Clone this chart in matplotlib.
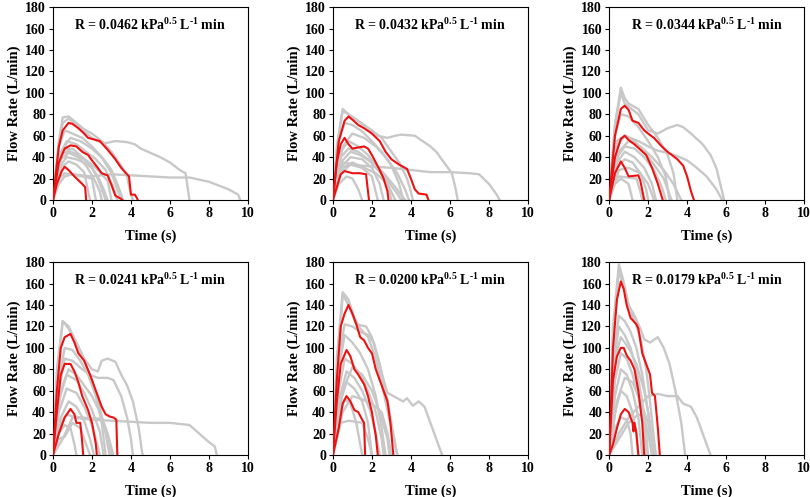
import matplotlib
matplotlib.use('Agg')
import matplotlib.pyplot as plt

plt.rcParams['font.family'] = 'Liberation Serif'
plt.rcParams['font.weight'] = 'bold'
plt.rcParams['mathtext.default'] = 'regular'

# resistance value for each panel
R_VALUES = ['0.0462', '0.0432', '0.0344', '0.0241', '0.0200', '0.0179']

X_TICKS = [0, 2, 4, 6, 8, 10]
Y_TICKS = [0, 20, 40, 60, 80, 100, 120, 140, 160, 180]

# each curve is a list of (time s, flow L/min) points
P1_RED = [
    [(0, 0), (0.3, 50), (0.5, 65), (0.8, 72), (1.0, 71), (1.3, 67), (1.6, 62), (1.8, 58), (2.0, 57), (2.4, 55),
     (2.8, 47), (3.2, 38), (3.5, 30), (3.8, 24), (3.9, 22), (4.0, 5), (4.2, 5), (4.3, 2), (4.35, 0)],
    [(0, 0), (0.3, 35), (0.6, 48), (0.9, 51), (1.2, 50), (1.5, 45), (1.8, 42), (2.0, 37), (2.3, 30), (2.5, 25),
     (2.8, 23), (3.0, 14), (3.2, 4), (3.5, 1), (3.55, 0)],
    [(0, 0), (0.2, 15), (0.45, 27), (0.6, 31), (0.8, 28), (1.1, 22), (1.5, 15), (1.65, 12), (1.7, 0)],
]
P1_GRAY = [
    [(0, 0), (0.3, 50), (0.5, 72), (0.8, 76), (1.2, 70), (1.6, 64), (2.0, 58), (2.3, 55), (2.7, 53), (3.2, 55),
     (3.8, 54), (4.2, 52), (4.5, 48), (5.0, 44), (5.5, 40), (6.0, 35), (6.5, 28), (6.8, 25), (7.0, 0)],
    [(0, 0), (0.3, 15), (0.6, 22), (1.0, 24), (2.0, 22), (3.0, 24), (4.0, 23), (5.0, 22), (6.0, 21), (7.0, 21),
     (8.0, 17), (9.0, 10), (9.5, 5), (9.6, 0)],
    [(0, 0), (0.3, 55), (0.5, 77), (0.8, 78), (1.2, 72), (1.6, 66), (2.0, 62), (2.5, 55), (3.0, 45), (3.5, 32),
     (3.8, 22), (4.0, 5), (4.1, 0)],
    [(0, 0), (0.3, 50), (0.6, 65), (1.0, 62), (1.5, 58), (2.0, 50), (2.5, 40), (3.0, 25), (3.3, 10), (3.5, 0)],
    [(0, 0), (0.3, 40), (0.7, 55), (1.2, 52), (1.7, 45), (2.2, 38), (2.7, 28), (3.1, 12), (3.3, 0)],
    [(0, 0), (0.4, 42), (0.8, 46), (1.3, 42), (1.8, 35), (2.3, 22), (2.6, 10), (2.8, 0)],
    [(0, 0), (0.4, 38), (0.8, 44), (1.3, 40), (1.7, 32), (2.1, 20), (2.4, 8), (2.5, 0)],
    [(0, 0), (0.4, 30), (0.8, 36), (1.2, 33), (1.6, 26), (1.9, 0)],
    [(0, 0), (0.3, 20), (0.6, 25), (1.5, 22), (2.0, 20), (2.2, 0)],
    [(0, 0), (0.3, 30), (0.7, 40), (1.2, 38), (1.6, 35), (2.0, 30), (2.3, 20), (2.6, 5), (2.7, 0)],
    [(0, 0), (0.4, 45), (0.9, 58), (1.4, 55), (2.0, 48), (2.6, 38), (3.0, 28), (3.3, 15), (3.6, 0)],
    [(0, 0), (0.5, 47), (1.0, 48), (1.5, 40), (2.2, 30), (2.8, 18), (3.0, 0)],
]

P2_RED = [
    [(0, 0), (0.3, 55), (0.6, 74), (0.8, 78), (1.0, 75), (1.3, 70), (1.6, 67), (2.0, 62), (2.4, 55), (2.7, 45),
     (3.0, 38), (3.4, 33), (3.8, 29), (4.0, 20), (4.2, 10), (4.4, 6), (4.8, 5), (4.9, 0)],
    [(0, 0), (0.2, 35), (0.4, 52), (0.6, 58), (0.8, 52), (1.0, 48), (1.3, 49), (1.6, 50), (1.8, 48), (2.0, 42),
     (2.2, 35), (2.4, 28), (2.6, 20), (2.8, 8), (2.85, 0)],
    [(0, 0), (0.2, 12), (0.4, 24), (0.6, 27), (1.0, 25), (1.4, 25), (1.7, 24), (1.85, 0)],
]
P2_GRAY = [
    [(0, 0), (0.2, 50), (0.5, 85), (0.8, 80), (1.2, 75), (1.6, 70), (2.0, 64), (2.3, 60), (2.8, 58), (3.2, 60),
     (3.5, 61), (4.2, 60), (4.6, 55), (5.0, 50), (5.3, 45), (5.9, 30), (6.1, 25), (6.3, 10), (6.4, 0)],
    [(0, 0), (0.5, 35), (1.5, 32), (3.0, 30), (4.0, 28), (5.0, 26), (6.0, 26), (7.0, 25), (7.5, 24), (8.0, 15),
     (8.4, 5), (8.55, 0)],
    [(0, 0), (0.3, 60), (0.5, 83), (0.8, 80), (1.2, 75), (1.6, 70), (2.0, 65), (2.5, 58), (3.0, 45), (3.4, 35),
     (3.8, 20), (4.0, 8), (4.1, 0)],
    [(0, 0), (0.3, 55), (0.6, 72), (1.0, 70), (1.5, 64), (2.0, 55), (2.5, 45), (3.0, 32), (3.4, 15), (3.6, 0)],
    [(0, 0), (0.4, 45), (0.8, 55), (1.3, 50), (1.8, 42), (2.3, 30), (2.8, 15), (3.0, 0)],
    [(0, 0), (0.4, 35), (0.9, 45), (1.4, 42), (2.0, 35), (2.6, 25), (3.2, 12), (3.7, 0)],
    [(0, 0), (0.4, 30), (0.9, 40), (1.5, 38), (2.0, 30), (2.4, 15), (2.6, 0)],
    [(0, 0), (0.4, 25), (0.9, 33), (1.5, 30), (2.0, 22), (2.3, 0)],
    [(0, 0), (0.3, 15), (0.7, 22), (1.0, 20), (1.3, 10), (1.5, 0)],
    [(0, 0), (0.4, 40), (0.8, 48), (1.3, 45), (1.8, 38), (2.3, 28), (2.8, 18), (3.3, 6), (3.5, 0)],
    [(0, 0), (0.5, 50), (1.0, 62), (1.6, 58), (2.2, 50), (2.8, 38), (3.3, 25), (3.7, 10), (3.9, 0)],
    [(0, 0), (0.5, 30), (1.0, 35), (1.6, 30), (2.2, 25), (2.8, 15), (3.2, 0)],
]

P3_RED = [
    [(0, 0), (0.3, 60), (0.6, 85), (0.8, 88), (1.0, 84), (1.2, 74), (1.5, 72), (1.8, 65), (2.0, 62), (2.3, 58),
     (2.7, 50), (3.0, 45), (3.5, 38), (3.8, 32), (4.0, 22), (4.2, 8), (4.35, 0)],
    [(0, 0), (0.3, 40), (0.6, 57), (0.8, 60), (1.0, 56), (1.3, 52), (1.6, 47), (1.9, 42), (2.2, 30), (2.5, 15),
     (2.7, 3), (2.75, 0)],
    [(0, 0), (0.3, 25), (0.6, 36), (0.8, 30), (1.0, 22), (1.5, 23), (1.6, 18), (1.8, 0)],
]
P3_GRAY = [
    [(0, 0), (0.3, 70), (0.6, 100), (0.8, 90), (1.5, 80), (2.0, 65), (2.5, 62), (3.0, 67), (3.5, 70), (3.8, 68),
     (4.2, 62), (4.8, 52), (5.2, 42), (5.5, 30), (5.7, 15), (5.9, 0)],
    [(0, 0), (0.4, 55), (0.8, 60), (1.5, 55), (2.0, 50), (2.5, 46), (3.0, 44), (3.5, 41), (4.0, 37), (4.5, 30),
     (5.0, 22), (5.5, 10), (5.8, 0)],
    [(0, 0), (0.3, 70), (0.6, 105), (0.8, 95), (1.0, 90), (1.5, 85), (2.0, 70), (2.5, 58), (3.0, 42), (3.3, 25),
     (3.5, 0)],
    [(0, 0), (0.3, 60), (0.6, 80), (1.0, 78), (1.5, 68), (2.0, 55), (2.5, 40), (2.9, 22), (3.1, 0)],
    [(0, 0), (0.4, 50), (0.8, 60), (1.3, 55), (1.8, 45), (2.3, 33), (2.8, 20), (3.2, 0)],
    [(0, 0), (0.4, 40), (0.8, 50), (1.3, 48), (1.8, 40), (2.3, 28), (2.7, 12), (2.9, 0)],
    [(0, 0), (0.4, 35), (0.8, 45), (1.3, 40), (1.8, 30), (2.2, 15), (2.4, 0)],
    [(0, 0), (0.3, 18), (0.5, 22), (1.0, 21), (1.4, 20), (1.6, 8), (1.7, 0)],
    [(0, 0), (0.4, 30), (0.8, 38), (1.2, 35), (1.6, 25), (1.9, 10), (2.0, 0)],
    [(0, 0), (0.5, 45), (1.0, 55), (1.6, 50), (2.2, 40), (2.8, 28), (3.3, 15), (3.7, 0)],
    [(0, 0), (0.5, 28), (1.0, 30), (1.6, 25), (2.0, 15), (2.3, 0)],
    [(0, 0), (0.3, 15), (0.6, 20), (1.0, 15), (1.2, 0)],
]

P4_RED = [
    [(0, 0), (0.2, 60), (0.4, 100), (0.6, 110), (0.9, 113), (1.1, 105), (1.3, 95), (1.6, 88), (1.9, 75),
     (2.1, 65), (2.3, 55), (2.5, 45), (2.7, 38), (2.9, 36), (3.1, 35), (3.25, 33), (3.3, 0)],
    [(0, 0), (0.2, 40), (0.4, 75), (0.6, 85), (0.9, 85), (1.1, 78), (1.3, 68), (1.5, 55), (1.8, 42), (2.0, 30),
     (2.2, 10), (2.25, 0)],
    [(0, 0), (0.3, 20), (0.6, 35), (0.9, 43), (1.1, 38), (1.2, 30), (1.4, 30), (1.5, 12), (1.55, 0)],
]
P4_GRAY = [
    [(0, 0), (0.3, 90), (0.5, 125), (0.8, 120), (1.2, 105), (1.6, 90), (2.0, 80), (2.3, 78), (2.5, 88), (2.8, 90),
     (3.2, 87), (3.5, 75), (3.8, 65), (4.1, 50), (4.4, 25), (4.55, 5), (4.6, 0)],
    [(0, 0), (0.5, 15), (1.0, 35), (2.0, 33), (3.0, 32), (4.0, 31), (5.0, 30), (6.0, 30), (7.0, 28), (7.5, 20),
     (8.0, 12), (8.3, 8), (8.4, 0)],
    [(0, 0), (0.2, 80), (0.5, 125), (0.8, 118), (1.2, 105), (1.6, 88), (2.0, 70), (2.4, 45), (2.7, 20), (2.9, 0)],
    [(0, 0), (0.3, 70), (0.6, 100), (1.0, 98), (1.4, 88), (1.8, 75), (2.2, 55), (2.5, 30), (2.7, 0)],
    [(0, 0), (0.3, 60), (0.6, 90), (1.0, 88), (1.5, 80), (2.0, 74), (2.3, 72), (2.8, 72), (3.1, 70), (3.5, 55),
     (3.8, 35), (4.0, 15), (4.1, 0)],
    [(0, 0), (0.3, 50), (0.7, 75), (1.2, 70), (1.6, 58), (2.0, 42), (2.4, 22), (2.6, 0)],
    [(0, 0), (0.3, 40), (0.7, 62), (1.2, 58), (1.6, 45), (2.0, 28), (2.3, 8), (2.4, 0)],
    [(0, 0), (0.4, 35), (0.8, 50), (1.2, 45), (1.6, 32), (1.9, 15), (2.1, 0)],
    [(0, 0), (0.3, 15), (0.6, 17), (1.0, 30), (1.4, 25), (1.7, 10), (1.9, 0)],
    [(0, 0), (0.4, 30), (0.7, 38), (1.0, 36), (1.5, 35), (2.0, 34), (2.5, 34), (2.8, 20), (3.0, 0)],
    [(0, 0), (0.3, 20), (0.6, 28), (0.9, 25), (1.1, 10), (1.2, 0)],
    [(0, 0), (0.4, 60), (0.8, 80), (1.2, 75), (1.6, 65), (2.0, 55), (2.4, 40), (2.8, 20), (3.1, 0)],
]

P5_RED = [
    [(0, 0), (0.2, 70), (0.4, 120), (0.6, 132), (0.8, 140), (1.0, 132), (1.2, 122), (1.4, 110), (1.6, 107),
     (1.8, 100), (2.0, 95), (2.2, 80), (2.4, 70), (2.6, 60), (2.8, 50), (2.95, 30), (3.05, 10), (3.1, 0)],
    [(0, 0), (0.2, 50), (0.4, 85), (0.7, 98), (0.9, 92), (1.1, 80), (1.3, 75), (1.6, 66), (1.8, 55), (2.0, 40),
     (2.2, 18), (2.3, 0)],
    [(0, 0), (0.3, 25), (0.5, 48), (0.7, 55), (0.9, 50), (1.1, 42), (1.3, 40), (1.5, 33), (1.6, 30), (1.65, 0)],
]
P5_GRAY = [
    [(0, 0), (0.2, 60), (0.5, 150), (0.8, 140), (1.2, 122), (1.7, 120), (2.0, 110), (2.3, 90), (2.6, 70),
     (2.8, 58), (3.2, 54), (3.6, 50), (3.8, 53), (4.1, 46), (4.4, 50), (4.7, 45), (5.0, 30), (5.3, 15), (5.6, 0)],
    [(0, 0), (0.2, 90), (0.5, 152), (0.8, 145), (1.1, 128), (1.4, 118), (1.8, 110), (2.1, 95), (2.4, 75),
     (2.7, 50), (3.0, 25), (3.3, 0)],
    [(0, 0), (0.3, 90), (0.6, 122), (1.0, 120), (1.4, 115), (1.8, 112), (2.1, 105), (2.4, 85), (2.7, 60),
     (3.0, 30), (3.3, 0)],
    [(0, 0), (0.3, 80), (0.6, 112), (1.0, 105), (1.4, 95), (1.8, 80), (2.2, 55), (2.5, 25), (2.7, 0)],
    [(0, 0), (0.3, 60), (0.6, 90), (1.0, 85), (1.4, 75), (1.8, 60), (2.2, 40), (2.5, 15), (2.6, 0)],
    [(0, 0), (0.3, 50), (0.7, 78), (1.1, 72), (1.5, 60), (1.9, 42), (2.2, 20), (2.4, 0)],
    [(0, 0), (0.3, 45), (0.7, 68), (1.1, 62), (1.5, 50), (1.8, 30), (2.0, 0)],
    [(0, 0), (0.4, 30), (0.8, 32), (1.2, 31), (1.5, 30), (1.8, 15), (2.0, 0)],
    [(0, 0), (0.3, 35), (0.6, 52), (0.9, 48), (1.2, 30), (1.4, 10), (1.5, 0)],
    [(0, 0), (0.5, 40), (1.0, 55), (1.5, 52), (2.0, 48), (2.5, 40), (2.8, 20), (3.0, 0)],
    [(0, 0), (0.5, 60), (1.0, 82), (1.5, 75), (2.0, 60), (2.4, 40), (2.8, 15), (2.9, 0)],
]

P6_RED = [
    [(0, 0), (0.2, 100), (0.4, 145), (0.6, 162), (0.75, 155), (0.9, 140), (1.1, 128), (1.4, 122), (1.5, 118),
     (1.7, 95), (1.9, 85), (2.1, 75), (2.2, 58), (2.35, 55), (2.5, 25), (2.6, 0)],
    [(0, 0), (0.2, 70), (0.4, 92), (0.6, 100), (0.75, 100), (0.9, 93), (1.1, 88), (1.3, 80), (1.5, 60),
     (1.7, 30), (1.8, 0)],
    [(0, 0), (0.2, 10), (0.4, 25), (0.6, 38), (0.8, 43), (1.0, 40), (1.2, 30), (1.25, 22), (1.3, 30), (1.4, 20),
     (1.5, 0)],
]
P6_GRAY = [
    [(0, 0), (0.2, 120), (0.5, 178), (0.7, 165), (1.0, 140), (1.3, 130), (1.6, 118), (1.8, 108), (2.1, 105),
     (2.5, 110), (2.8, 100), (3.1, 85), (3.4, 60), (3.7, 30), (3.9, 0)],
    [(0, 0), (0.5, 20), (1.0, 35), (1.5, 45), (2.0, 55), (2.5, 57), (3.0, 55), (3.5, 55), (3.8, 48), (4.2, 45),
     (4.5, 35), (4.8, 20), (5.1, 5), (5.2, 0)],
    [(0, 0), (0.2, 110), (0.5, 172), (0.7, 160), (1.0, 140), (1.3, 125), (1.6, 110), (1.9, 80), (2.1, 50),
     (2.3, 15), (2.4, 0)],
    [(0, 0), (0.2, 90), (0.5, 130), (0.8, 125), (1.1, 115), (1.4, 100), (1.7, 75), (2.0, 40), (2.2, 0)],
    [(0, 0), (0.2, 80), (0.5, 120), (0.8, 112), (1.1, 100), (1.4, 80), (1.7, 50), (1.9, 20), (2.0, 0)],
    [(0, 0), (0.3, 70), (0.6, 95), (0.9, 90), (1.2, 75), (1.5, 55), (1.8, 25), (1.9, 0)],
    [(0, 0), (0.3, 55), (0.6, 80), (0.9, 75), (1.2, 60), (1.5, 35), (1.7, 0)],
    [(0, 0), (0.3, 40), (0.6, 60), (0.9, 55), (1.2, 40), (1.4, 20), (1.5, 0)],
    [(0, 0), (0.3, 25), (0.6, 35), (0.9, 33), (1.1, 20), (1.2, 0)],
    [(0, 0), (0.4, 50), (0.8, 72), (1.2, 68), (1.6, 50), (2.0, 30), (2.3, 0)],
    [(0, 0), (0.5, 15), (1.0, 30), (1.5, 38), (1.8, 35), (2.0, 20), (2.2, 0)],
    [(0, 0), (0.3, 90), (0.6, 110), (1.0, 100), (1.4, 85), (1.8, 60), (2.1, 30), (2.3, 0)],
]

REDS = [P1_RED, P2_RED, P3_RED, P4_RED, P5_RED, P6_RED]
GRAYS = [P1_GRAY, P2_GRAY, P3_GRAY, P4_GRAY, P5_GRAY, P6_GRAY]

fig = plt.figure(figsize=(8.1, 4.97), dpi=100)

lefts = [0.0654, 0.411, 0.752]
bottoms = [0.5976, 0.0845]
w, h = 0.2407, 0.388

for i in range(6):
    row, col = divmod(i, 3)
    ax = fig.add_axes([lefts[col], bottoms[row], w, h])

    for curve in GRAYS[i]:
        t = [p[0] for p in curve]
        q = [p[1] for p in curve]
        ax.plot(t, q, color='#c8c8c8', lw=1.7, zorder=2)
    for curve in REDS[i]:
        t = [p[0] for p in curve]
        q = [p[1] for p in curve]
        ax.plot(t, q, color='#ee1111', lw=1.5, zorder=3)

    ax.set_xlim(0, 10)
    ax.set_ylim(0, 180)
    ax.set_xticks(X_TICKS)
    ax.set_yticks(Y_TICKS)
    ax.tick_params(direction='out', length=3, width=0.8, labelsize=10, pad=2)
    for lab in ax.get_xticklabels() + ax.get_yticklabels():
        lab.set_fontweight('bold')
    ax.set_xlabel('Time (s)', fontsize=10.5, fontweight='bold', labelpad=7)
    ax.set_ylabel('Flow Rate (L/min)', fontsize=10.5, fontweight='bold', labelpad=3)
    ax.text(0.5, 0.905, 'R = ' + R_VALUES[i] + ' kPa$^{0.5}$ L$^{\u20101}$ min',
            transform=ax.transAxes, ha='center', va='center', fontsize=10, fontweight='bold')

fig.savefig('out.png', dpi=100)
